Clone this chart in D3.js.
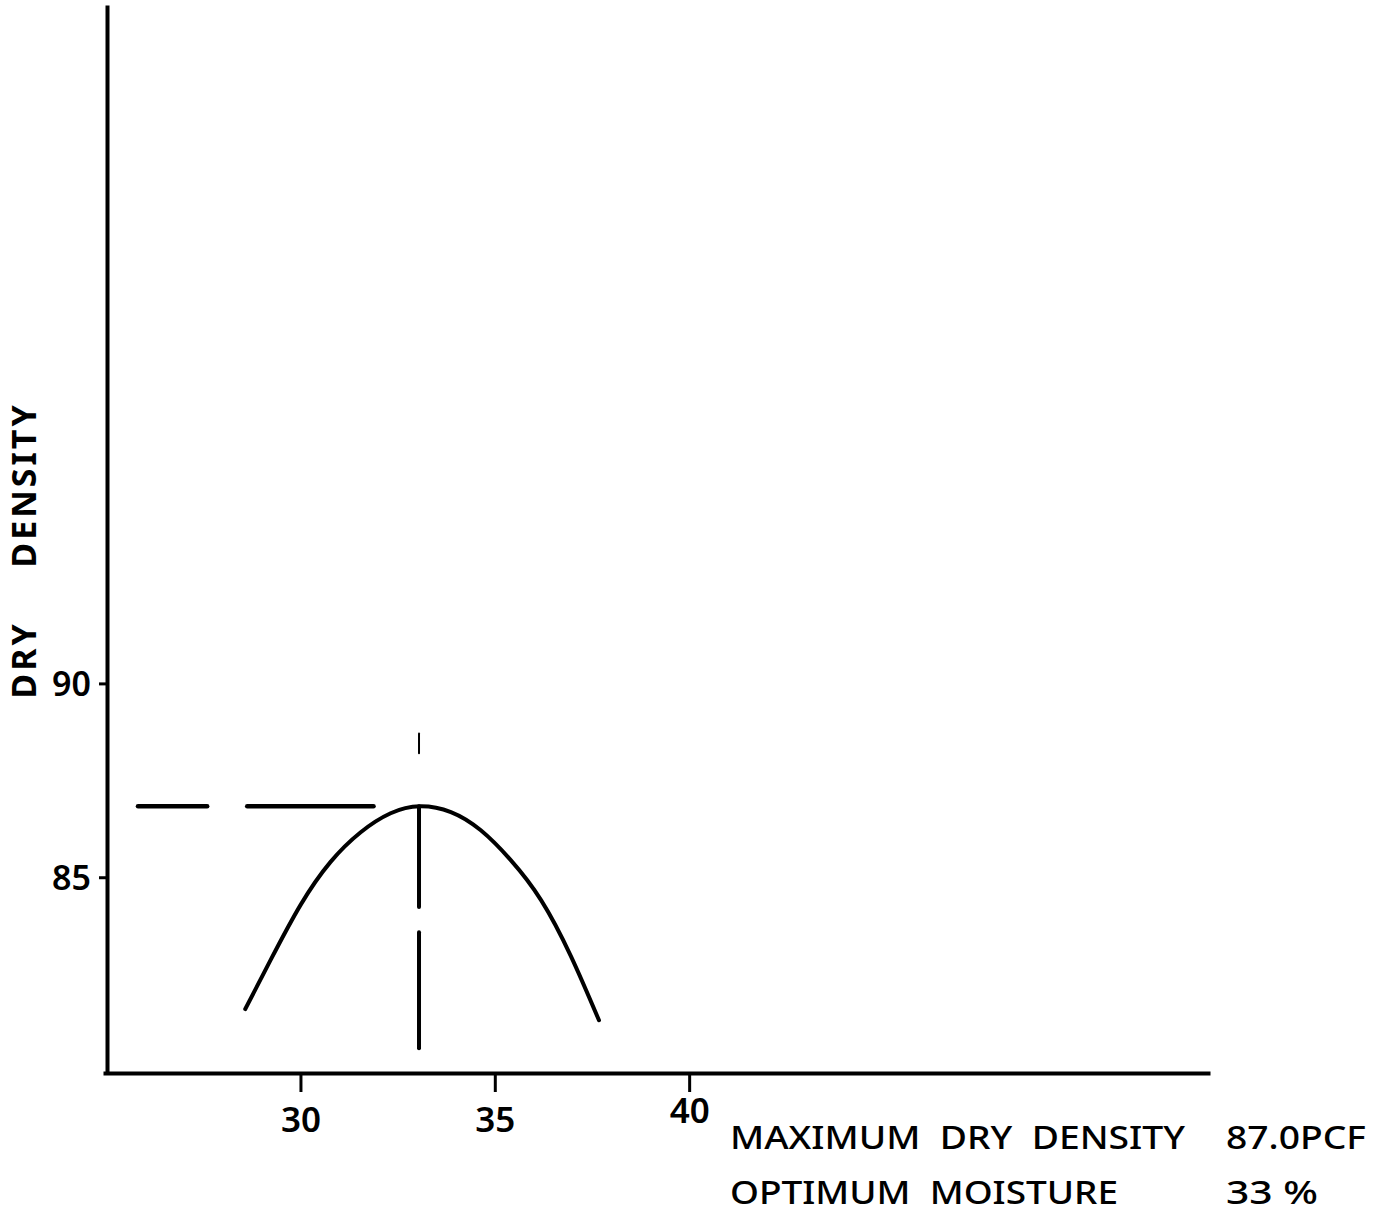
<!DOCTYPE html>
<html>
<head>
<meta charset="utf-8">
<script src="https://cdn.jsdelivr.net/npm/d3@7/dist/d3.min.js"></script>
<style>
  html, body { margin: 0; padding: 0; background: #fff; }
  svg { display: block; }
  text { font-family: "Noto Sans", "DejaVu Sans", sans-serif; fill: #000; }
</style>
</head>
<body>
<svg id="chart" width="1380" height="1216"></svg>
<script>
// ---- data (moisture %, dry density pcf) ----
const moisture = [28.58, 29.23, 30.0, 30.77, 31.55, 32.32, 33.07, 33.87, 34.64, 35.41, 36.19, 36.96, 37.68];
const density  = [81.60, 82.86, 84.28, 85.39, 86.16, 86.65, 86.83, 86.68, 86.21, 85.44, 84.41, 82.96, 81.31];
const xTicks = [30, 35, 40];
const yTicks = [85, 90];
const xDomain = [24.92, 53.4];
const yDomain = [79.95, 107.5];
// dashed guide lines (data units)
const optMoisture = 33.05;
const maxDensity = 86.83;
const hDashes = [[25.82, 27.6], [28.63, 31.88]];          // moisture ranges at maxDensity
const vDashes = [[86.83, 84.23], [83.58, 80.59], [88.71, 88.2]]; // density ranges at optMoisture
const yTitleWords = ["DRY", "DENSITY"];
const summaryLabels = ["MAXIMUM  DRY  DENSITY", "OPTIMUM  MOISTURE"];
const summaryValues = ["87.0PCF", "33 %"];

const svg = d3.select("#chart");
const x = d3.scaleLinear().domain(xDomain).range([103, 1210]);
const y = d3.scaleLinear().domain(yDomain).range([1073, 5]);
const yAxisX = 107;

// x axis
const gx = svg.append("g").attr("transform", `translate(0,${y(yDomain[0])})`)
  .call(d3.axisBottom(x).tickValues(xTicks).tickSize(19).tickSizeOuter(0).tickFormat(d3.format("d")));
gx.select(".domain").attr("stroke", "#000").attr("stroke-width", 4);
gx.selectAll(".tick line").attr("stroke", "#000").attr("stroke-width", 3);
gx.selectAll(".tick text").attr("y", 34).attr("dy", "0.72em")
  .attr("font-size", 35).attr("font-weight", 600).attr("font-family", "Noto Sans");
gx.selectAll(".tick text").filter(d => d === 40).attr("y", 25);

// y axis
const gy = svg.append("g").attr("transform", `translate(${yAxisX},0)`)
  .call(d3.axisLeft(y).tickValues(yTicks).tickSize(8).tickSizeOuter(0).tickPadding(8).tickFormat(d3.format("d")));
gy.select(".domain").attr("stroke", "#000").attr("stroke-width", 4);
gy.selectAll(".tick line").attr("stroke", "#000").attr("stroke-width", 3);
gy.selectAll(".tick text").attr("font-size", 34).attr("font-weight", 600)
  .attr("font-family", "Noto Sans").attr("dy", "0.36em");

// y title
const titlePos = [660, 485];
yTitleWords.forEach((w, i) => {
  svg.append("text")
    .attr("transform", `translate(36,${titlePos[i]}) rotate(-90)`)
    .attr("text-anchor", "middle")
    .attr("font-size", 34)
    .attr("font-weight", "bold")
    .attr("letter-spacing", 3)
    .text(w);
});

// compaction curve
const pts = moisture.map((m, i) => [m, density[i]]);
svg.append("path")
  .datum(pts)
  .attr("fill", "none")
  .attr("stroke", "#000")
  .attr("stroke-width", 4)
  .attr("stroke-linecap", "round")
  .attr("d", d3.line().x(d => x(d[0])).y(d => y(d[1])).curve(d3.curveNatural));

// dashed guides
svg.selectAll(".hdash").data(hDashes).enter().append("line")
  .attr("x1", d => x(d[0])).attr("x2", d => x(d[1]))
  .attr("y1", y(maxDensity)).attr("y2", y(maxDensity))
  .attr("stroke", "#000").attr("stroke-width", 4.5).attr("stroke-linecap", "round");
svg.selectAll(".vdash").data(vDashes).enter().append("line")
  .attr("x1", x(optMoisture)).attr("x2", x(optMoisture))
  .attr("y1", d => y(d[0])).attr("y2", d => y(d[1]))
  .attr("stroke", "#000").attr("stroke-width", (d, i) => i === 2 ? 2 : 4).attr("stroke-linecap", "round");

// summary text
const rowsY = [1149, 1204];
const labelWidths = [455, 388];
const valueWidths = [140, 92];
summaryLabels.forEach((t, i) => {
  svg.append("text").attr("x", 730).attr("y", rowsY[i])
    .attr("font-size", 33).attr("font-weight", 500)
    .attr("textLength", labelWidths[i]).attr("lengthAdjust", "spacingAndGlyphs")
    .style("white-space", "pre").text(t);
  svg.append("text").attr("x", 1226).attr("y", rowsY[i])
    .attr("font-size", 33).attr("font-weight", 500)
    .attr("textLength", valueWidths[i]).attr("lengthAdjust", "spacingAndGlyphs")
    .style("white-space", "pre").text(summaryValues[i]);
});
</script>
</body>
</html>
